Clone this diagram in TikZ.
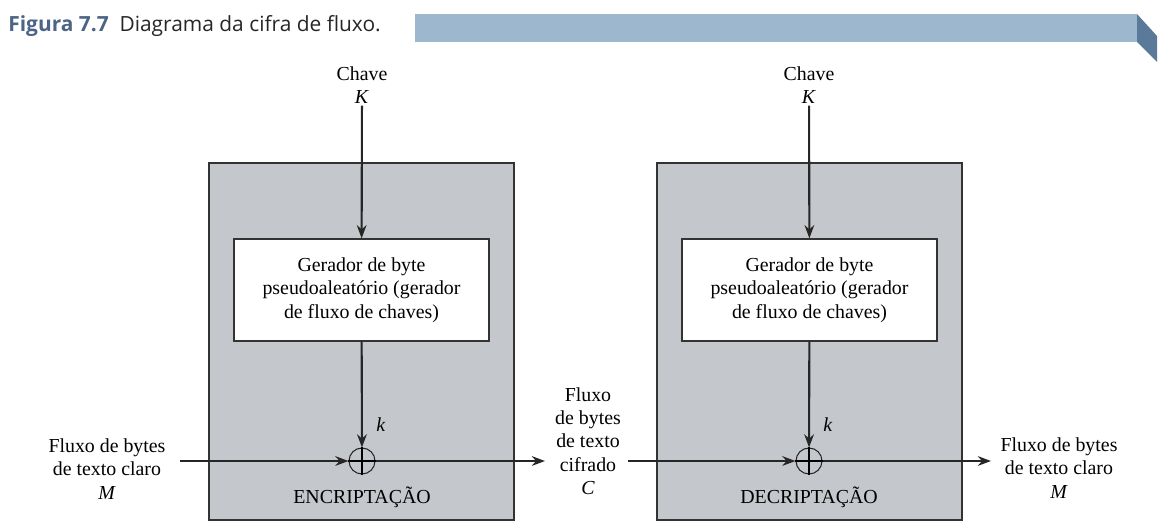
\documentclass[tikz,border=0pt]{standalone}
\usepackage{fontspec}
\setmainfont{Liberation Serif}
\newfontfamily\titlefont{Open Sans}
\usetikzlibrary{arrows.meta,positioning}
\definecolor{boxgray}{HTML}{C4C7CB}
\definecolor{barblue}{HTML}{9DB8CE}
\definecolor{bardark}{HTML}{5B7A99}
\definecolor{titleblue}{HTML}{4D6585}
\definecolor{titleink}{HTML}{262626}

\begin{document}
\begin{tikzpicture}[x=0.02cm, y=-0.02cm,
                    font=\fontsize{11.3}{13.3}\selectfont]
        % Setup the styles
        \tikzset{outer box/.style={draw=black!80, line width=0.8pt, fill=boxgray,
                                   minimum width=6.1cm, minimum height=7.14cm},
                 gen box/.style={draw=black!80, line width=0.8pt, fill=white,
                                 minimum width=5.1cm, minimum height=2.04cm,
                                 align=center, inner sep=0pt},
                 xor/.style={circle, draw=black!85, line width=0.6pt,
                             minimum size=0.52cm, inner sep=0pt},
                 label text/.style={align=center, inner sep=1pt},
                 flow/.style={line width=1.2pt, draw=black!85,
                              -{Stealth[length=7.5pt, width=5.5pt]}}}

        \useasboundingbox (0, 0) rectangle (1173, 529);

        % Title and banner
        \node[anchor=west, inner sep=0pt] (title) at (8, 26)
            {\titlefont\fontsize{11.9}{14}\selectfont
             \textcolor{titleblue}{\bfseries Figura 7.7}\ \ \textcolor{titleink}{Diagrama da cifra de fluxo.}};
        \fill[barblue] (415, 14) rectangle (1137, 42);
        \fill[bardark] (1137, 14) -- (1157, 36) -- (1157, 62) -- (1137, 42) -- cycle;

        % Draw the boxes
        \node[outer box] at (361.5, 341.5) (encbox) {};
        \node[outer box] at (809.5, 341.5) (decbox) {};
        \node[gen box] at (361.5, 290) (genA)
            {Gerador de byte\\ pseudoaleatório (gerador\\ de fluxo de chaves)};
        \node[gen box] at (809.5, 290) (genB)
            {Gerador de byte\\ pseudoaleatório (gerador\\ de fluxo de chaves)};
        \node[xor] at (362, 461) (xorA) {};
        \node[xor] at (809, 461) (xorB) {};
        \draw[line width=0.6pt] (xorA.north) -- (xorA.south) (xorA.west) -- (xorA.east);
        \draw[line width=0.6pt] (xorB.north) -- (xorB.south) (xorB.west) -- (xorB.east);

        % Labels
        \node[label text] at (362, 85)  (keyA) {Chave\\ \textit{K}};
        \node[label text] at (809, 85)  (keyB) {Chave\\ \textit{K}};
        \node[label text] at (381, 425) (kA)   {\textit{k}};
        \node[label text] at (828, 425) (kB)   {\textit{k}};
        \node[label text] at (107, 469) (plainin)  {Fluxo de bytes\\ de texto claro\\ \textit{M}};
        \node[label text] at (588, 441) (cipher)   {Fluxo\\ de bytes\\ de texto\\ cifrado\\ \textit{C}};
        \node[label text] at (1059, 468) (plainout) {Fluxo de bytes\\ de texto claro\\ \textit{M}};
        \node[label text] at (362, 497) (encname) {ENCRIPTAÇÃO};
        \node[label text] at (809, 497) (decname) {DECRIPTAÇÃO};

        \coordinate (inA)  at (180, 461);
        \coordinate (outA) at (545, 461);
        \coordinate (inB)  at (628, 461);
        \coordinate (outB) at (991, 461);

        % Connect with arrows
        \draw[flow] (keyA) -- (genA);
        \draw[flow] (keyB) -- (genB);
        \draw[flow] (genA) -- (xorA);
        \draw[flow] (genB) -- (xorB);
        \draw[flow] (inA) -- (xorA);
        \draw[flow] (xorA) -- (outA);
        \draw[flow] (inB) -- (xorB);
        \draw[flow] (xorB) -- (outB);
\end{tikzpicture}
\end{document}
